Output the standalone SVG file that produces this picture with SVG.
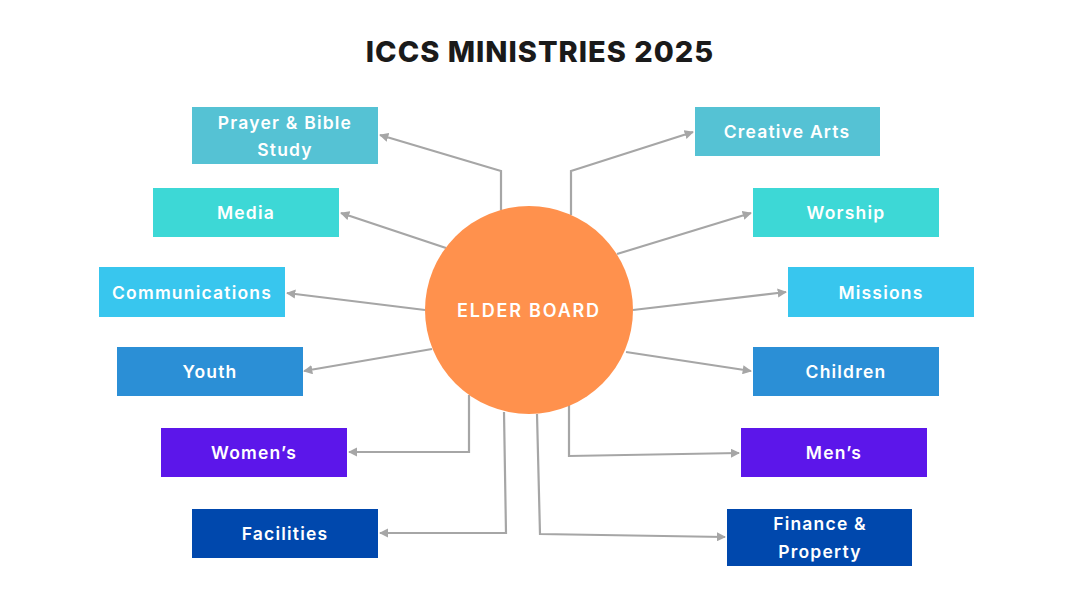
<svg xmlns="http://www.w3.org/2000/svg" width="1080" height="608" viewBox="0 0 1080 608">
<style>
.lbl{font-family:Inter,"Open Sans","Liberation Sans",sans-serif;font-weight:600;font-size:17.5px;fill:#ffffff;text-anchor:middle;letter-spacing:1.2px}
.con{fill:none;stroke:#a6a6a6;stroke-width:2.2;marker-end:url(#ah)}
</style>
<defs>
<marker id="ah" viewBox="0 0 10 10" refX="9" refY="5" markerWidth="4.2" markerHeight="4.2" orient="auto" markerUnits="strokeWidth">
<path d="M0,0 L10,5 L0,10 z" fill="#a6a6a6"/>
</marker>
</defs>
<rect width="1080" height="608" fill="#ffffff"/>
<text x="540" y="62" text-anchor="middle" font-family="Inter,'Open Sans','Liberation Sans',sans-serif" font-weight="800" font-size="29" letter-spacing="1" fill="#1a1a1a">ICCS MINISTRIES 2025</text>
<g id="connectors">
<polyline class="con" points="501,210 501,171 380,135"/>
<polyline class="con" points="446,248 341,213"/>
<polyline class="con" points="425,310 287,293"/>
<polyline class="con" points="432,349 304,371"/>
<polyline class="con" points="469,395 469,452 349,452"/>
<polyline class="con" points="504,412 506,533 380,533"/>
<polyline class="con" points="571,215 571,171 693,132"/>
<polyline class="con" points="617,254 751,213"/>
<polyline class="con" points="633,310 786,292"/>
<polyline class="con" points="626,352 751,371"/>
<polyline class="con" points="569,405 569,456 739,453"/>
<polyline class="con" points="537,414 540,534 725,537"/>
</g>
<g id="elder-board">
<circle cx="529" cy="310" r="104" fill="#ff914d"/>
<text x="529" y="317" text-anchor="middle" font-family="Inter,'Open Sans','Liberation Sans',sans-serif" font-weight="600" font-size="18" letter-spacing="1.8" fill="#ffffff">ELDER BOARD</text>
</g>
<g id="prayer">
<rect x="192" y="107" width="186" height="57" fill="#55c2d4"/>
<text class="lbl" x="285" y="129">Prayer &amp; Bible</text>
<text class="lbl" x="285" y="156">Study</text>
</g>
<g id="media">
<rect x="153" y="188" width="186" height="49" fill="#3dd8d6"/>
<text class="lbl" x="246" y="219">Media</text>
</g>
<g id="communications">
<rect x="99" y="267" width="186" height="50" fill="#38c6ee"/>
<text class="lbl" x="192" y="299">Communications</text>
</g>
<g id="youth">
<rect x="117" y="347" width="186" height="49" fill="#2b8fd6"/>
<text class="lbl" x="210" y="378">Youth</text>
</g>
<g id="womens">
<rect x="161" y="428" width="186" height="49" fill="#5c16ea"/>
<text class="lbl" x="254" y="459">Women’s</text>
</g>
<g id="facilities">
<rect x="192" y="509" width="186" height="49" fill="#0048ad"/>
<text class="lbl" x="285" y="540">Facilities</text>
</g>
<g id="creative-arts">
<rect x="695" y="107" width="185" height="49" fill="#55c2d4"/>
<text class="lbl" x="787" y="138">Creative Arts</text>
</g>
<g id="worship">
<rect x="753" y="188" width="186" height="49" fill="#3dd8d6"/>
<text class="lbl" x="846" y="219">Worship</text>
</g>
<g id="missions">
<rect x="788" y="267" width="186" height="50" fill="#38c6ee"/>
<text class="lbl" x="881" y="299">Missions</text>
</g>
<g id="children">
<rect x="753" y="347" width="186" height="49" fill="#2b8fd6"/>
<text class="lbl" x="846" y="378">Children</text>
</g>
<g id="mens">
<rect x="741" y="428" width="186" height="49" fill="#5c16ea"/>
<text class="lbl" x="834" y="459">Men’s</text>
</g>
<g id="finance">
<rect x="727" y="509" width="185" height="57" fill="#0048ad"/>
<text class="lbl" x="820" y="530">Finance &amp;</text>
<text class="lbl" x="820" y="558">Property</text>
</g>
</svg>
